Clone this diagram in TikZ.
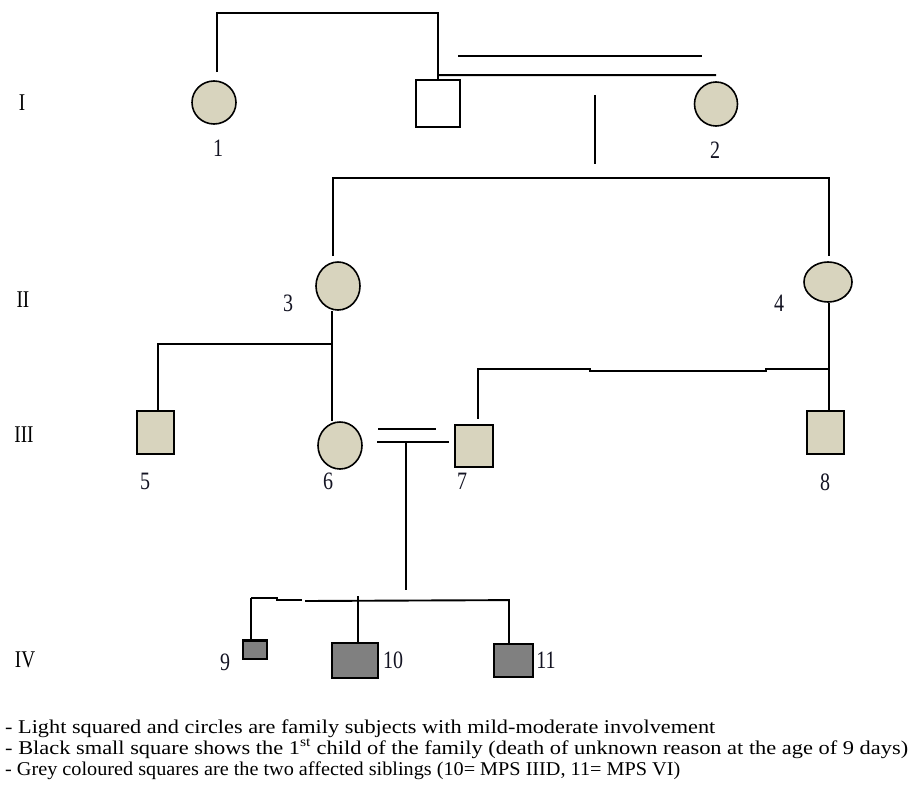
\documentclass[tikz,border=0pt]{standalone}
\usepackage{fontspec}
\setmainfont{Liberation Serif}
\newfontfamily\labfont[FakeStretch=0.8]{Liberation Serif}
\usetikzlibrary{shapes.geometric}
\definecolor{beige}{RGB}{216,212,190}
\definecolor{affgrey}{RGB}{128,128,128}
\definecolor{labcol}{RGB}{20,20,35}
\tikzset{
  fem/.style={ellipse, draw=black, line width=1.6pt, fill=beige, inner sep=0pt},
  mal/.style={rectangle, draw=black, line width=1.8pt, fill=beige, inner sep=0pt},
  unaff/.style={rectangle, draw=black, line width=1.8pt, fill=white, inner sep=0pt},
  aff/.style={rectangle, draw=black, line width=1.8pt, fill=affgrey, inner sep=0pt},
  num/.style={font=\labfont\fontsize{25}{27}\selectfont, text=labcol, inner sep=0pt},
  gen/.style={font=\labfont\fontsize{24}{26}\selectfont, text=black, inner sep=0pt},
  leg/.style={font=\fontsize{19.5}{22}\selectfont, anchor=base west, inner sep=0pt},
  ln/.style={line width=1.9pt, black}
}
\begin{document}
\begin{tikzpicture}[x=1pt,y=-1pt]
\useasboundingbox (0,0) rectangle (912,789);
\fill[white] (0,0) rectangle (912,789);
% individuals
\node[fem, minimum width=44pt, minimum height=43pt] (p1) at (214,102.5) {};
\node[unaff, minimum width=44pt, minimum height=47pt] (p0) at (438,103.5) {};
\node[fem, minimum width=43pt, minimum height=44pt] (p2) at (716,104) {};
\node[fem, minimum width=44pt, minimum height=48pt] (p3) at (338,286) {};
\node[fem, minimum width=48pt, minimum height=40pt] (p4) at (828,282) {};
\node[mal, minimum width=37pt, minimum height=43pt] (p5) at (155.5,432.5) {};
\node[fem, minimum width=44pt, minimum height=47pt] (p6) at (340,445.5) {};
\node[mal, minimum width=38pt, minimum height=42pt] (p7) at (474,446) {};
\node[mal, minimum width=37pt, minimum height=43pt] (p8) at (825.5,432.5) {};
\node[aff, minimum width=24pt, minimum height=18pt] (p9) at (255,650) {};
\node[aff, minimum width=46pt, minimum height=35pt] (p10) at (355,660.5) {};
\node[aff, minimum width=39pt, minimum height=33pt] (p11) at (513.5,660.5) {};
\draw[line width=2.8pt] (p9.north west) -- (p9.north east);
% numbers
\node[num] (n1) at (218,148) {1};
\node[num] (n2) at (715,150) {2};
\node[num] (n3) at (288,303) {3};
\node[num] (n4) at (779,303) {4};
\node[num] (n5) at (145,481) {5};
\node[num] (n6) at (328,481) {6};
\node[num] (n7) at (462,481) {7};
\node[num] (n8) at (825,482) {8};
\node[num] (n9) at (225,662) {9};
\node[num] (n10) at (393,660) {10};
\node[num] (n11) at (546,660) {11};
% generation labels
\node[gen] (gI) at (22,103) {I};
\node[gen] (gII) at (23,300) {II};
\node[gen] (gIII) at (24,435) {III};
\node[gen] (gIV) at (25,660) {IV};
% generation I connectors
\draw[ln] ([xshift=3pt,yshift=8pt]p1.north) -- ++(0,-59) -| (p0.north);
\coordinate (dbA) at (458,56);
\coordinate (dbB) at (702,56);
\draw[ln] (dbA) -- (dbB);
\draw[ln] ([yshift=4pt]p0.north) -- ([yshift=6pt]p2.north);
\coordinate (d12a) at (595,95);
\coordinate (d12b) at (595,164);
\draw[ln] (d12a) -- (d12b);
\coordinate (sibII) at (595,178);
\draw[ln] ([xshift=-5pt,yshift=5pt]p3.north) |- (sibII) -| ([xshift=1pt,yshift=5pt]p4.north);
% generation II to III
\draw[ln] ([xshift=-6pt]p3.south) -- ([xshift=-8pt]p6.north);
\coordinate (b3) at (332,344);
\draw[ln] (b3) -| ([xshift=2.5pt]p5.north);
\draw[ln] ([xshift=1pt]p4.south) -- ([xshift=3.5pt]p8.north);
\coordinate (b4) at (829,369);
\draw[ln] (b4) -- (766,369) -- (766,371) -- (590,371) -- (590,369) -| ([xshift=4pt,yshift=5pt]p7.north);
% marriage 6 = 7
\coordinate (m67a) at (378,429);
\coordinate (m67b) at (436,429);
\coordinate (m67c) at (377,442);
\coordinate (m67d) at (449,442);
\draw[ln] (m67a) -- (m67b);
\draw[ln] (m67c) -- (m67d);
\coordinate (d67a) at (406,442);
\coordinate (d67b) at (406,590);
\draw[ln] (d67a) -- (d67b);
% sibship IV
\draw[ln] ([xshift=-4pt,yshift=42pt]p9.north) -- ++(26,0) -- ++(0,2) -- ++(25,0);
\draw[ln] (305,601) -- ([xshift=-4.5pt,yshift=43pt]p11.north) -- ([xshift=-4.5pt]p11.north);
\draw[ln] ([xshift=-4pt,yshift=42pt]p9.north) -- ([xshift=-4pt]p9.north);
\draw[ln] ([xshift=3pt,yshift=46pt]p10.north) -- ([xshift=3pt]p10.north);
% legend
\node[leg] (l1) at (5,733) {\resizebox{710pt}{\height}{- Light squared and circles are family subjects with mild-moderate involvement}};
\node[leg] (l2) at (5,754) {\resizebox{903pt}{\height}{- Black small square shows the 1\textsuperscript{st} child of the family (death of unknown reason at the age of 9 days)}};
\node[leg] (l3) at (5,775) {\resizebox{675pt}{\height}{- Grey coloured squares are the two affected siblings (10= MPS IIID, 11= MPS VI)}};
\end{tikzpicture}
\end{document}
